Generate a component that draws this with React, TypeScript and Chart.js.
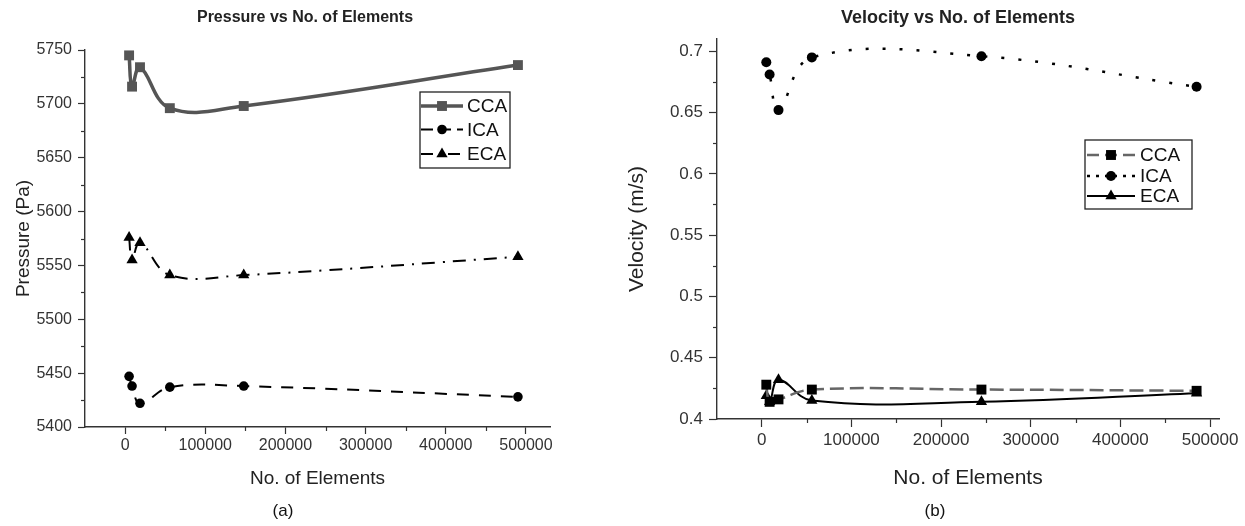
import React, { useEffect, useRef } from 'react';
import { Chart, registerables } from 'chart.js';

Chart.register(...registerables);

// ---------- data ----------
const seriesLabels = ['CCA', 'ICA', 'ECA'];

const elementsP = [5000, 8700, 18600, 55800, 148000, 490000];
const pressureCCA = [5745, 5716, 5734, 5696, 5698, 5736];
const pressureICA = [5447, 5438, 5422, 5437, 5438, 5428];
const pressureECA = [5576, 5555, 5571, 5541, 5541, 5558];

const elementsV = [5000, 8700, 18600, 55800, 245000, 485000];
const velocityCCA = [0.428, 0.414, 0.416, 0.424, 0.424, 0.423];
const velocityICA = [0.691, 0.681, 0.652, 0.695, 0.696, 0.671];
const velocityECA = [0.419, 0.414, 0.432, 0.415, 0.414, 0.421];

const xTicks = [-50000, 0, 50000, 100000, 150000, 200000, 250000, 300000, 350000, 400000, 450000, 500000];
const pressureTicks = [5400, 5425, 5450, 5475, 5500, 5525, 5550, 5575, 5600, 5625, 5650, 5675, 5700, 5725, 5750];
const velocityTicks = [0.4, 0.425, 0.45, 0.475, 0.5, 0.525, 0.55, 0.575, 0.6, 0.625, 0.65, 0.675, 0.7];

const FONT = "'Liberation Sans', Arial, sans-serif";

const toPts = (xs: number[], ys: number[]) => xs.map((x, i) => ({ x, y: ys[i] }));

function drawMarker(ctx: CanvasRenderingContext2D, style: string, x: number, y: number, r: number, color: string) {
  ctx.save();
  ctx.fillStyle = color;
  ctx.setLineDash([]);
  ctx.beginPath();
  if (style === 'rect') {
    const s = r * Math.SQRT1_2;
    ctx.rect(x - s, y - s, 2 * s, 2 * s);
  } else if (style === 'triangle') {
    let a = 0;
    ctx.moveTo(x + Math.sin(a) * r, y - Math.cos(a) * r);
    a += (2 * Math.PI) / 3;
    ctx.lineTo(x + Math.sin(a) * r, y - Math.cos(a) * r);
    a += (2 * Math.PI) / 3;
    ctx.lineTo(x + Math.sin(a) * r, y - Math.cos(a) * r);
    ctx.closePath();
  } else {
    ctx.arc(x, y, r, 0, Math.PI * 2);
  }
  ctx.fill();
  ctx.restore();
}

const boxLegend = {
  id: 'boxLegend',
  afterDraw(chart: any, _a: any, o: any) {
    const ctx = chart.ctx as CanvasRenderingContext2D;
    ctx.save();
    ctx.strokeStyle = '#222';
    ctx.lineWidth = 1.3;
    ctx.setLineDash([]);
    ctx.strokeRect(o.x, o.y, o.w, o.h);
    chart.data.datasets.forEach((ds: any, i: number) => {
      const y = o.y + o.rows[i];
      ctx.save();
      ctx.strokeStyle = ds.borderColor;
      ctx.lineWidth = ds.borderWidth;
      ctx.setLineDash(o.dashes[i] || []);
      ctx.beginPath();
      ctx.moveTo(o.x + o.lx0, y);
      ctx.lineTo(o.x + o.lx1, y);
      ctx.stroke();
      ctx.restore();
      drawMarker(ctx, ds.pointStyle, o.x + (o.lx0 + o.lx1) / 2, y, ds.pointRadius, ds.pointBackgroundColor);
      ctx.fillStyle = '#111';
      ctx.font = o.font;
      ctx.textBaseline = 'middle';
      ctx.textAlign = 'left';
      ctx.fillText(ds.label, o.x + o.tx, y + 1);
    });
    ctx.restore();
  },
};

const fixedText = {
  id: 'fixedText',
  afterDraw(chart: any, _a: any, o: any) {
    const ctx = chart.ctx as CanvasRenderingContext2D;
    ctx.save();
    (o.items || []).forEach((it: any) => {
      ctx.font = it.font;
      ctx.fillStyle = it.color;
      ctx.textAlign = 'center';
      ctx.textBaseline = 'middle';
      ctx.fillText(it.text, it.x, it.y);
    });
    ctx.restore();
  },
};

const minorTicks = {
  id: 'minorTicks',
  afterDraw(chart: any, _a: any, o: any) {
    const ctx = chart.ctx as CanvasRenderingContext2D;
    ctx.save();
    ctx.strokeStyle = '#333';
    ctx.lineWidth = 1.2;
    ['x', 'y'].forEach((id) => {
      const sc = chart.scales[id];
      const minorVals: number[] = o[id] || [];
      minorVals.forEach((v) => {
        ctx.beginPath();
        if (id === 'x') {
          const px = Math.round(sc.getPixelForValue(v)) + 0.5;
          ctx.moveTo(px, chart.chartArea.bottom);
          ctx.lineTo(px, chart.chartArea.bottom + o.len);
        } else {
          const py = Math.round(sc.getPixelForValue(v)) + 0.5;
          ctx.moveTo(chart.chartArea.left, py);
          ctx.lineTo(chart.chartArea.left - o.len, py);
        }
        ctx.stroke();
      });
    });
    ctx.restore();
  },
};

const fmt = (v: number) => String(Number(v.toFixed(3)));

function makeConfig(p: any) {
  const isMajorX = (v: number) => v >= 0 && v % 100000 === 0;
  const isMajorY = (v: number) => Math.abs(Math.round(v / p.yMajor) * p.yMajor - v) < 1e-9;
  return {
    type: 'line',
    data: { datasets: p.datasets },
    options: {
      responsive: false,
      animation: false,
      events: [],
      layout: { padding: p.padding },
      plugins: {
        legend: { display: false },
        tooltip: { enabled: false },
        title: { display: false },
        boxLegend: p.legend,
        fixedText: { items: p.texts },
        minorTicks: {
          len: 4,
          x: xTicks.filter((v) => !isMajorX(v) && v > p.xMin),
          y: p.yTicks.filter((v: number) => !isMajorY(v)),
        },
      },
      scales: {
        x: {
          type: 'linear',
          min: p.xMin,
          max: p.xMax,
          afterBuildTicks: (s: any) => {
            s.ticks = xTicks.filter((v) => isMajorX(v)).map((v) => ({ value: v }));
          },
          afterFit: (s: any) => {
            s.height = p.xHeight;
          },
          grid: { display: true, drawOnChartArea: false, drawTicks: true, tickLength: p.tickLen, color: '#333', tickColor: '#333', tickWidth: 1.2 },
          border: { display: true, color: '#333', width: 1.4 },
          ticks: {
            autoSkip: false,
            maxRotation: 0,
            padding: p.xTickPad,
            color: '#333',
            font: { family: FONT, size: p.tickSize },
            callback: (v: number) => String(v),
          },
          title: {
            display: true,
            text: 'No. of Elements',
            color: '#222',
            font: { family: FONT, size: p.axisTitleSize },
            padding: { top: 0, bottom: p.xTitlePad },
          },
        },
        y: {
          type: 'linear',
          min: p.yMin,
          max: p.yMax,
          afterBuildTicks: (s: any) => {
            s.ticks = p.yTicks.filter((v: number) => isMajorY(v)).map((v: number) => ({ value: v }));
          },
          afterFit: (s: any) => {
            s.width = p.yWidth;
          },
          grid: { display: true, drawOnChartArea: false, drawTicks: true, tickLength: p.tickLen, color: '#333', tickColor: '#333', tickWidth: 1.2 },
          border: { display: true, color: '#333', width: 1.4 },
          ticks: {
            autoSkip: false,
            padding: p.yTickPad,
            color: '#333',
            font: { family: FONT, size: p.tickSize },
            callback: (v: number) => fmt(v),
          },
          title: {
            display: true,
            text: p.yTitle,
            color: '#222',
            font: { family: FONT, size: p.axisTitleSize },
            padding: { top: p.yTitlePad, bottom: 0 },
          },
        },
      },
    },
    plugins: [boxLegend, fixedText, minorTicks],
  };
}

function ChartCanvas({ config, style, width, height }: any) {
  const ref = useRef<HTMLCanvasElement>(null);
  useEffect(() => {
    const c = new Chart(ref.current as HTMLCanvasElement, config);
    return () => c.destroy();
  }, []);
  return <canvas ref={ref} width={width} height={height} style={{ position: 'absolute', ...style, width, height }} />;
}

export default function App() {
  const left = makeConfig({
    padding: { top: 50, right: 50, left: 0, bottom: 0 },
    xMin: -50000,
    xMax: 530000,
    yMin: 5400,
    yMax: 5750,
    yMajor: 50,
    yTicks: pressureTicks,
    yTitle: 'Pressure (Pa)',
    yWidth: 85,
    xHeight: 99,
    tickLen: 7,
    xTickPad: 2,
    yTickPad: 6,
    tickSize: 16,
    axisTitleSize: 19,
    xTitlePad: 36,
    yTitlePad: 12,
    legend: {
      x: 420, y: 92, w: 90, h: 76, rows: [14, 37.5, 62],
      lx0: 1, lx1: 43, tx: 47, font: `19px ${FONT}`,
      dashes: [[], [12, 6], [12, 6, 3, 6]],
    },
    texts: [
      { text: 'Pressure vs No. of Elements', x: 305, y: 18, font: `bold 16px ${FONT}`, color: '#222' },
      { text: '(a)', x: 283, y: 511, font: `17px ${FONT}`, color: '#111' },
    ],
    datasets: [
      {
        label: seriesLabels[0], data: toPts(elementsP, pressureCCA),
        borderColor: '#555', backgroundColor: '#555', borderWidth: 3.5, tension: 0.4,
        pointStyle: 'rect', pointRadius: 7, pointBackgroundColor: '#555', pointBorderWidth: 0,
      },
      {
        label: seriesLabels[1], data: toPts(elementsP, pressureICA),
        borderColor: '#000', backgroundColor: '#000', borderWidth: 2, borderDash: [12, 10], tension: 0.4,
        pointStyle: 'circle', pointRadius: 4.8, pointBackgroundColor: '#000', pointBorderWidth: 0,
      },
      {
        label: seriesLabels[2], data: toPts(elementsP, pressureECA),
        borderColor: '#000', backgroundColor: '#000', borderWidth: 2, borderDash: [13, 8, 2, 8], tension: 0.4,
        pointStyle: 'triangle', pointRadius: 6.5, pointBackgroundColor: '#000', pointBorderWidth: 0,
      },
    ],
  });

  const right = makeConfig({
    padding: { top: 39, right: 26, left: 0, bottom: 0 },
    xMin: -50000,
    xMax: 510000,
    yMin: 0.4,
    yMax: 0.71,
    yMajor: 0.05,
    yTicks: velocityTicks,
    yTitle: 'Velocity (m/s)',
    yWidth: 117,
    xHeight: 107,
    tickLen: 8,
    xTickPad: 3,
    yTickPad: 6,
    tickSize: 17,
    axisTitleSize: 21,
    xTitlePad: 35,
    yTitlePad: 25,
    legend: {
      x: 485, y: 140, w: 107, h: 69, rows: [15, 36, 56],
      lx0: 2, lx1: 50, tx: 55, font: `19px ${FONT}`,
      dashes: [[12, 6], [3, 6], []],
    },
    texts: [
      { text: 'Velocity vs No. of Elements', x: 358, y: 18, font: `bold 18px ${FONT}`, color: '#222' },
      { text: '(b)', x: 335, y: 511, font: `17px ${FONT}`, color: '#111' },
    ],
    datasets: [
      {
        label: seriesLabels[0], data: toPts(elementsV, velocityCCA),
        borderColor: '#666', backgroundColor: '#444', borderWidth: 2.5, borderDash: [14, 6], tension: 0.4,
        pointStyle: 'rect', pointRadius: 7, pointBackgroundColor: '#000', pointBorderWidth: 0,
      },
      {
        label: seriesLabels[1], data: toPts(elementsV, velocityICA),
        borderColor: '#000', backgroundColor: '#000', borderWidth: 2.5, borderDash: [3, 14], tension: 0.4,
        pointStyle: 'circle', pointRadius: 5, pointBackgroundColor: '#000', pointBorderWidth: 0,
      },
      {
        label: seriesLabels[2], data: toPts(elementsV, velocityECA),
        borderColor: '#000', backgroundColor: '#000', borderWidth: 2, tension: 0.4,
        pointStyle: 'triangle', pointRadius: 6.5, pointBackgroundColor: '#000', pointBorderWidth: 0,
      },
    ],
  });

  return (
    <div style={{ position: 'fixed', left: 0, top: 0, width: 1245, height: 526, background: '#fff' }}>
      <ChartCanvas config={left} width={600} height={526} style={{ left: 0, top: 0 }} />
      <ChartCanvas config={right} width={645} height={526} style={{ left: 600, top: 0 }} />
    </div>
  );
}
